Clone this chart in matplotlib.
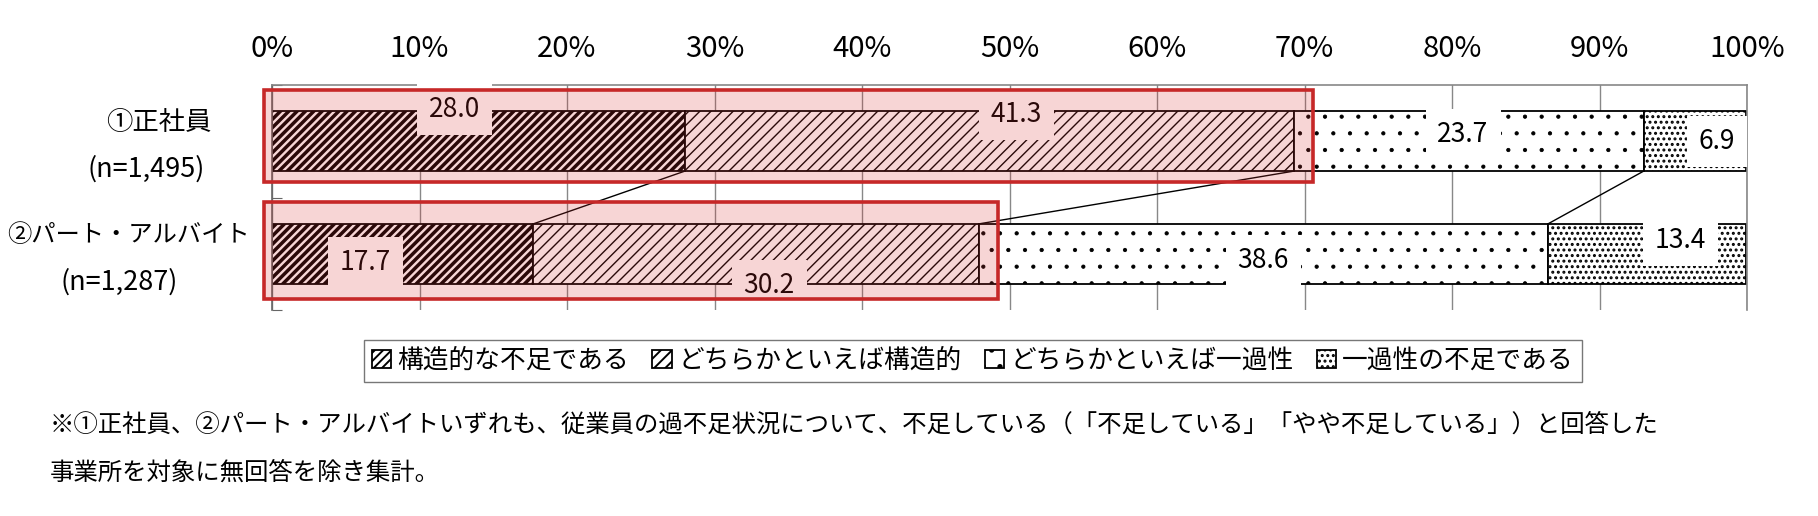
import matplotlib
matplotlib.use('Agg')
import matplotlib.pyplot as plt
import matplotlib.patches as mpatches
import matplotlib.transforms as mtrans
import numpy as np

plt.rcParams['font.family'] = ['Noto Sans CJK JP', 'DejaVu Sans']

# data
categories = ['①正社員', '②パート・アルバイト']
sample_sizes = ['(n=1,495)', '(n=1,287)']
series_names = ['構造的な不足である', 'どちらかといえば構造的',
                'どちらかといえば一過性', '一過性の不足である']
structural = [28.0, 17.7]
rather_structural = [41.3, 30.2]
rather_temporary = [23.7, 38.6]
temporary = [6.9, 13.4]
tick_values = [0, 10, 20, 30, 40, 50, 60, 70, 80, 90, 100]
note_lines = ['※①正社員、②パート・アルバイトいずれも、従業員の過不足状況について、不足している（「不足している」「やや不足している」）と回答した',
              '事業所を対象に無回答を除き集計。']

# look of each series: hatch, hatch linewidth
hatches = ['////', '///', '.', '...']
hatch_lws = [2.5, 1.0, 0.6, 1.4]

# label offsets from the segment centre (x in %, y in category units)
label_dx = [[-1.6, -2.5], [1.8, 0.9], [-0.4, 0.0], [1.5, 2.3]]
label_dy = [[-0.28, 0.08], [-0.24, 0.28], [-0.06, 0.06], [0.0, -0.12]]

W, H = 1818, 516
fig = plt.figure(figsize=(W / 100, H / 100), dpi=100)
ax = fig.add_axes([272 / W, 1 - 310 / H, (1747 - 272) / W, (310 - 85) / H])

series = [structural, rather_structural, rather_temporary, temporary]
ypos = np.arange(len(categories))
bar_h = 0.53
left = np.zeros(len(categories))
bars = []
for i, vals in enumerate(series):
    vals = np.array(vals)
    plt.rcParams['hatch.linewidth'] = hatch_lws[i]
    b = ax.barh(ypos, vals, left=left, height=bar_h, color='white',
                edgecolor='black', linewidth=1.3, hatch=hatches[i],
                label=series_names[i], zorder=2)
    for p in b.patches:
        if hasattr(p, 'set_hatch_linewidth'):
            p.set_hatch_linewidth(hatch_lws[i])
    bars.append(b)
    for j, v in enumerate(vals):
        ax.text(left[j] + v / 2 + label_dx[i][j], ypos[j] + label_dy[i][j],
                f'{v:.1f}', ha='center', va='center', fontsize=19,
                color='black', zorder=3,
                bbox=dict(boxstyle='square,pad=0.45', fc='white', ec='none'))
    left = left + vals

# series lines between the two bars
cum = np.cumsum(np.array(series), axis=0)
for k in range(3):
    ax.plot([cum[k][0], cum[k][1]], [ypos[0] + bar_h / 2, ypos[1] - bar_h / 2],
            color='black', lw=1.0, zorder=2.2)

# red highlight over the structural part
for j in range(len(categories)):
    right = cum[1][j] + 1.3
    hgt = 0.82 if j == 0 else 0.86
    rect = mpatches.Rectangle((-0.55, ypos[j] - 0.46), right + 0.55, hgt,
                              fc='#d93030', alpha=0.2, ec='none', zorder=4, clip_on=False)
    ax.add_patch(rect)
    edge = mpatches.Rectangle((-0.55, ypos[j] - 0.46), right + 0.55, hgt,
                              fill=False, ec='#c62828', lw=2.6, zorder=5, clip_on=False)
    ax.add_patch(edge)

ax.set_xlim(0, 100)
ax.set_ylim(1.5, -0.5)
ax.xaxis.tick_top()
ax.set_xticks(tick_values)
ax.set_xticklabels([f'{t}%' for t in tick_values], fontsize=21)
ax.tick_params(axis='x', length=0, pad=15)
ax.set_yticks([-0.5, 0.5, 1.5])
ax.set_yticklabels([])
ax.tick_params(axis='y', direction='in', length=7, color='#666666')
ax.grid(axis='x', color='#888888', lw=1.0, zorder=0)
ax.set_axisbelow(True)
ax.spines['bottom'].set_visible(False)
ax.spines['top'].set_color('#888888')
ax.spines['right'].set_color('#888888')
ax.spines['left'].set_color('#666666')
for s in ax.spines.values():
    s.set_linewidth(1.2)

# category labels
tr = mtrans.blended_transform_factory(fig.transFigure, ax.transData)
name_x = [159 / W, 128 / W]
n_x = [146 / W, 119 / W]
for j in range(len(categories)):
    ax.text(name_x[j], ypos[j] - 0.17, categories[j], transform=tr,
            ha='center', va='center', fontsize=17.5 if j else 19)
    ax.text(n_x[j], ypos[j] + 0.25, sample_sizes[j], transform=tr,
            ha='center', va='center', fontsize=19.5)

leg = fig.legend(handles=bars, loc='center', bbox_to_anchor=(973 / W, 1 - 361 / H),
                 ncol=4, fontsize=18.5, frameon=True, fancybox=False, edgecolor='#555555',
                 handlelength=0.75, handleheight=0.75, handletextpad=0.25,
                 columnspacing=0.9, borderpad=0.3)
leg.get_frame().set_linewidth(1.0)

fig.text(50 / W, 1 - 425 / H, note_lines[0], ha='left', va='center', fontsize=17.6)
fig.text(50 / W, 1 - 473 / H, note_lines[1], ha='left', va='center', fontsize=17.6)

fig.savefig('out.png', dpi=100)
